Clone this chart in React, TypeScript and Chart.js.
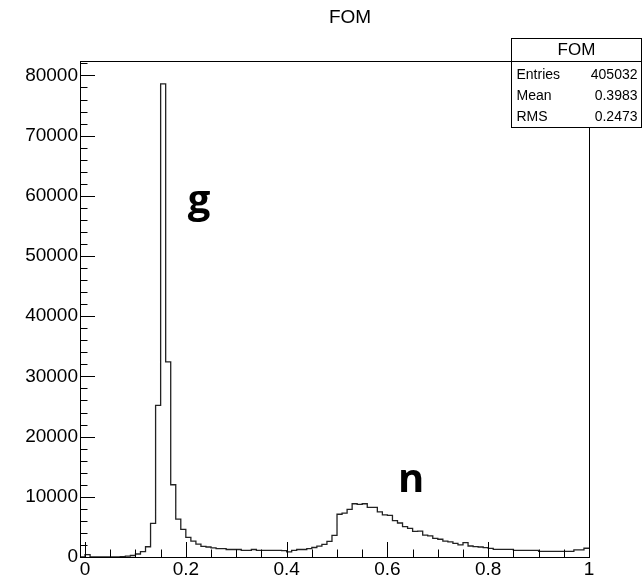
import React, { useEffect, useRef } from 'react';
import { Chart, registerables } from 'chart.js';

Chart.register(...registerables);

const TITLE = 'FOM';
const BIN_MIN = -0.01;
const BIN_WIDTH = 0.01;
// counts per bin, bins start at BIN_MIN and are BIN_WIDTH wide
const COUNTS = [
  0, 400, 0, 0, 0, 0, 0, 0, 50, 150,
  250, 500, 900, 1700, 5600, 25200, 78600, 32400, 12000, 6300,
  4600, 3250, 2650, 2150, 1750, 1660, 1500, 1400, 1400, 1250,
  1250, 1250, 1100, 1100, 1250, 1100, 1100, 1100, 1100, 1100,
  1050, 850, 1100, 1250, 1250, 1400, 1580, 1800, 2100, 2600,
  3600, 7100, 7300, 7900, 8850, 8750, 8850, 8250, 8250, 7500,
  7000, 6900, 6050, 5650, 5050, 4750, 4250, 4300, 3650, 3500,
  3100, 2950, 2650, 2500, 2270, 2000, 2380, 1830, 1720, 1660,
  1550, 1440, 1270, 1270, 1270, 1270, 1100, 1100, 1100, 1100,
  1100, 950, 950, 950, 950, 950, 950, 950, 1200, 1200,
  1450,
];
const X_TICKS = [0, 0.2, 0.4, 0.6, 0.8, 1];
const X_MINOR_STEP = 0.05;
const Y_TICKS = [0, 10000, 20000, 30000, 40000, 50000, 60000, 70000, 80000];
const Y_MINOR_STEP = 2000;
const Y_MAX = 82400;
const STATS_TITLE = 'FOM';
const STATS_ROWS = [
  ['Entries', '405032'],
  ['Mean', '0.3983'],
  ['RMS', '0.2473'],
];
const PEAK_LABELS = [
  { text: 'g', x: 0.226, y: 57100 },
  { text: 'n', x: 0.647, y: 10790 },
];

const FONT = '"Liberation Sans", Arial, Helvetica, sans-serif';

const rootPlugin = {
  id: 'rootStyle',
  afterDatasetsDraw(chart: any) {
    const { ctx, chartArea: a, scales } = chart;
    const xs = scales.x;
    const ys = scales.y;
    ctx.save();
    // frame
    ctx.strokeStyle = '#000';
    ctx.lineWidth = 1;
    ctx.strokeRect(Math.round(a.left) + 0.5, Math.round(a.top) + 0.5, Math.round(a.right - a.left), Math.round(a.bottom - a.top));
    // x ticks (inside)
    const xMin = xs.min, xMax = xs.max;
    ctx.beginPath();
    for (let v = Math.ceil(xMin / X_MINOR_STEP) * X_MINOR_STEP; v <= xMax + 1e-9; v += X_MINOR_STEP) {
      const px = Math.round(xs.getPixelForValue(v)) + 0.5;
      const isMajor = X_TICKS.some((t) => Math.abs(t - v) < 1e-6);
      const len = isMajor ? 15 : 7.5;
      ctx.moveTo(px, a.bottom);
      ctx.lineTo(px, a.bottom - len);
    }
    // y ticks (inside)
    for (let v = 0; v <= ys.max + 1e-9; v += Y_MINOR_STEP) {
      const py = Math.round(ys.getPixelForValue(v)) + 0.5;
      const isMajor = Y_TICKS.some((t) => Math.abs(t - v) < 1e-6);
      const len = isMajor ? 15 : 7.5;
      ctx.moveTo(a.left, py);
      ctx.lineTo(a.left + len, py);
    }
    ctx.stroke();

    // peak labels
    ctx.fillStyle = '#000';
    ctx.font = 'bold 40px "Open Sans", "Noto Sans", sans-serif';
    ctx.textAlign = 'center';
    ctx.textBaseline = 'alphabetic';
    PEAK_LABELS.forEach((l) => {
      ctx.fillText(l.text, xs.getPixelForValue(l.x), ys.getPixelForValue(l.y));
    });

    // title
    ctx.font = `19px ${FONT}`;
    ctx.textAlign = 'center';
    ctx.textBaseline = 'middle';
    ctx.fillText(TITLE, 350, 18);

    // stats box
    const bx = 511.5, by = 38.5, bw = 130, bh = 89;
    ctx.fillStyle = '#fff';
    ctx.fillRect(bx, by, bw, bh);
    ctx.strokeRect(bx, by, bw, bh);
    ctx.beginPath();
    ctx.moveTo(bx, 61.5);
    ctx.lineTo(bx + bw, 61.5);
    ctx.stroke();
    ctx.fillStyle = '#000';
    ctx.font = `17px ${FONT}`;
    ctx.textAlign = 'center';
    ctx.fillText(STATS_TITLE, bx + bw / 2, 50);
    ctx.font = `14px ${FONT}`;
    STATS_ROWS.forEach((r, i) => {
      const y = 75 + i * 21;
      ctx.textAlign = 'left';
      ctx.fillText(r[0], bx + 5, y);
      ctx.textAlign = 'right';
      ctx.fillText(r[1], bx + bw - 4, y);
    });
    ctx.restore();
  },
};

export default function App() {
  const ref = useRef<HTMLCanvasElement | null>(null);
  useEffect(() => {
    if (!ref.current) return;
    const points = COUNTS.map((c, i) => ({ x: BIN_MIN + i * BIN_WIDTH, y: c }));
    points.push({ x: BIN_MIN + COUNTS.length * BIN_WIDTH, y: COUNTS[COUNTS.length - 1] });
    const chart = new Chart(ref.current, {
      type: 'line',
      data: {
        datasets: [
          {
            data: points,
            stepped: true,
            borderColor: '#222',
            borderWidth: 1.3,
            pointRadius: 0,
            fill: false,
            tension: 0,
          } as any,
        ],
      },
      options: {
        animation: false,
        responsive: false,
        maintainAspectRatio: false,
        layout: { padding: { left: 0, right: 53, top: 61, bottom: 0 } },
        plugins: {
          legend: { display: false },
          title: { display: false },
          tooltip: { enabled: false },
        },
        scales: {
          x: {
            type: 'linear',
            min: BIN_MIN,
            max: BIN_MIN + COUNTS.length * BIN_WIDTH,
            afterBuildTicks: (s: any) => {
              s.ticks = X_TICKS.map((v) => ({ value: v }));
            },
            afterFit: (s: any) => {
              s.height = 21;
            },
            grid: { display: false, drawTicks: false },
            border: { display: false },
            ticks: {
              color: '#000',
              font: { family: FONT, size: 19 },
              padding: 1,
              maxRotation: 0,
              autoSkip: false,
              callback: (v: any) => String(Math.round(Number(v) * 100) / 100),
            },
          },
          y: {
            type: 'linear',
            min: 0,
            max: Y_MAX,
            afterBuildTicks: (s: any) => {
              s.ticks = Y_TICKS.map((v) => ({ value: v }));
            },
            afterFit: (s: any) => {
              s.width = 80;
            },
            grid: { display: false, drawTicks: false },
            border: { display: false },
            ticks: {
              color: '#000',
              font: { family: FONT, size: 19 },
              padding: 2,
              autoSkip: false,
              callback: (v: any) => String(v),
            },
          },
        },
      },
      plugins: [rootPlugin],
    });
    return () => chart.destroy();
  }, []);
  return (
    <div style={{ position: 'absolute', left: 0, top: 0, width: 642, height: 578, background: '#fff' }}>
      <canvas ref={ref} width={642} height={578} style={{ width: 642, height: 578, display: 'block' }} />
    </div>
  );
}
